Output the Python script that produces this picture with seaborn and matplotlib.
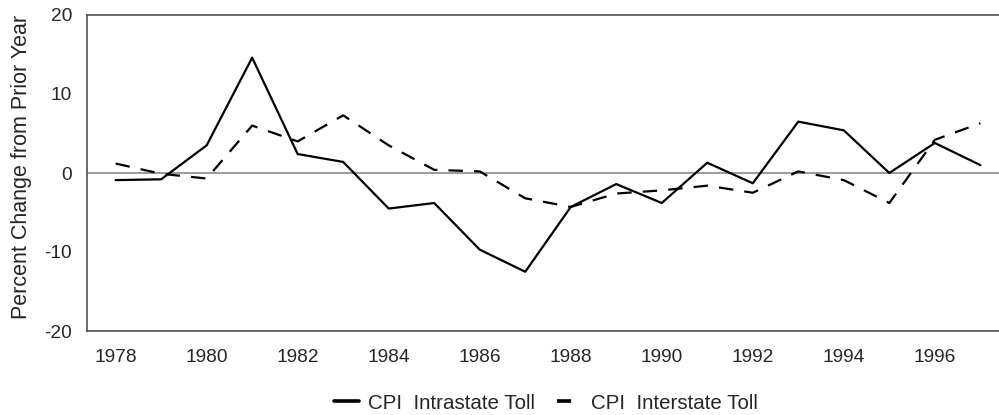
import matplotlib
matplotlib.use("Agg")
import matplotlib.pyplot as plt
import seaborn as sns
import pandas as pd

years = [1978, 1979, 1980, 1981, 1982, 1983, 1984, 1985, 1986, 1987,
         1988, 1989, 1990, 1991, 1992, 1993, 1994, 1995, 1996, 1997]
intrastate = [-0.9, -0.8, 3.5, 14.6, 2.4, 1.4, -4.5, -3.8, -9.7, -12.5,
              -4.3, -1.4, -3.8, 1.3, -1.3, 6.5, 5.4, 0.0, 3.8, 1.0]
interstate = [1.2, -0.1, -0.7, 6.0, 4.0, 7.3, 3.5, 0.4, 0.2, -3.2,
              -4.3, -2.6, -2.2, -1.6, -2.5, 0.2, -0.9, -3.8, 4.2, 6.3]
series_names = ["CPI  Intrastate Toll", "CPI  Interstate Toll"]
xtick_labels = [str(y) if y % 2 == 0 else "" for y in years]
yticks = [-20, -10, 0, 10, 20]

sns.set_style("white")
plt.rcParams["font.family"] = ["Liberation Sans", "DejaVu Sans"]
FS_TICK = 13.8
FS_LEG = 14.8
FS_YLAB = 15.5

df = pd.DataFrame({
    "year": years * 2,
    "value": intrastate + interstate,
    "series": [series_names[0]] * len(years) + [series_names[1]] * len(years),
})

fig = plt.figure(figsize=(9.99, 4.15), dpi=100)
ax = fig.add_axes([86.5 / 999, 84 / 415, 1 - 86.5 / 999, 316 / 415])

sns.lineplot(data=df, x="year", y="value", style="series", color="black",
             dashes={series_names[0]: "", series_names[1]: (6.5, 5)},
             linewidth=1.6, ax=ax, legend=True, estimator=None)

ax.axhline(0, color="#808080", linewidth=1.1, zorder=1)

ax.set_xlim(1977.36, 1997.41)
ax.set_ylim(-20, 20)
ax.set_xticks(years)
ax.set_xticklabels(xtick_labels, fontsize=FS_TICK)
ax.set_yticks(yticks)
ax.set_yticklabels([str(v) for v in yticks], fontsize=FS_TICK)
ax.tick_params(axis="y", direction="in", length=10, width=1.2, color="#808080", pad=10.4)
ax.tick_params(axis="x", direction="in", length=5.5, width=1.2, color="#606060", pad=13)
ax.set_xlabel("")
ax.set_ylabel("")

for s in ["left", "bottom", "top"]:
    ax.spines[s].set_visible(True)
    ax.spines[s].set_color("#505050")
    ax.spines[s].set_linewidth(1.2)
ax.spines["right"].set_visible(False)

fig.text(22 / 999, 1 - 167 / 415, "Percent Change from Prior Year",
         rotation=90, ha="center", va="center", fontsize=FS_YLAB)

handles, labels = ax.get_legend_handles_labels()
ax.get_legend().remove()
leg = fig.legend(handles, labels, loc="center", bbox_to_anchor=(546 / 999, 1 - 403 / 415),
                 ncol=2, frameon=False, fontsize=FS_LEG, handlelength=1.2,
                 handletextpad=0.45, columnspacing=1.05)
leg_lines = leg.get_lines()
for line in leg_lines:
    line.set_linewidth(2.6)
    line.set_color("black")
leg_lines[1].set_dashes([3.9, 4])

fig.savefig("out.png", dpi=100)
